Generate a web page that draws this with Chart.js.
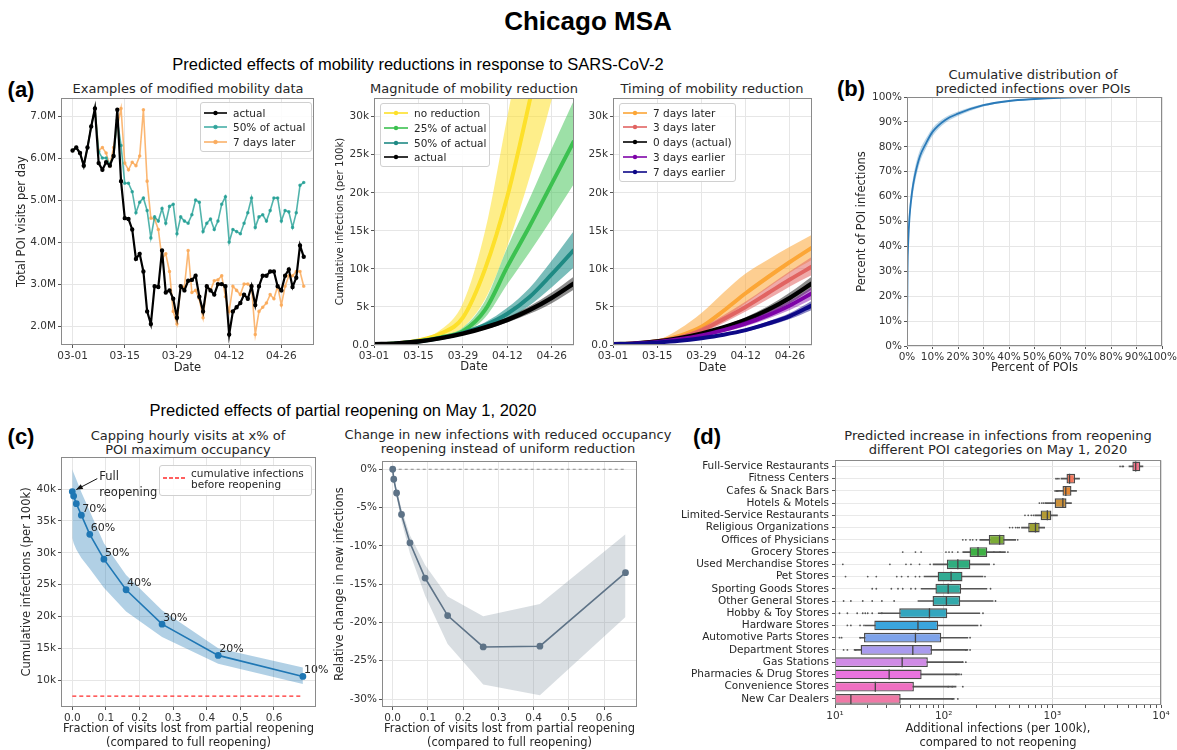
<!DOCTYPE html>
<html>
<head>
<meta charset="utf-8">
<script src="https://cdn.jsdelivr.net/npm/chart.js@4.4.1/dist/chart.umd.min.js"></script>
<style>
  body { margin: 0; width: 1177px; height: 750px; position: relative; overflow: hidden; background: #fff;
         font-family: 'DejaVu Sans', sans-serif; color: #262626; }
  canvas { position: absolute; }
  .t { position: absolute; white-space: nowrap; transform: translate(-50%, -50%); text-align: center; }
  .hv { font-family: 'Liberation Sans', Arial, sans-serif; color: #000; }
  .sub { font-size: 13px; line-height: 14px; }
  .lg { position: absolute; background: rgba(255,255,255,0.85); border: 1px solid #d0d0d0; border-radius: 3px; }
  .lg div { position: absolute; font-size: 10.5px; white-space: nowrap; transform: translateY(-50%); line-height: 11px; }
  .lg svg { position: absolute; }
</style>
</head>
<body>

<div class="t hv" style="left:588px;top:21px;font-size:26px;font-weight:bold">Chicago MSA</div>
<div class="t hv" style="left:418px;top:64px;font-size:16.5px">Predicted effects of mobility reductions in response to SARS-CoV-2</div>
<div class="t hv" style="left:343px;top:410px;font-size:16.5px">Predicted effects of partial reopening on May 1, 2020</div>
<div class="t hv" style="left:21px;top:90px;font-size:22px;font-weight:bold">(a)</div>
<div class="t hv" style="left:851px;top:89px;font-size:22px;font-weight:bold">(b)</div>
<div class="t hv" style="left:21px;top:437px;font-size:22px;font-weight:bold">(c)</div>
<div class="t hv" style="left:707px;top:437px;font-size:22px;font-weight:bold">(d)</div>

<div class="t sub" style="left:188px;top:88.5px">Examples of modified mobility data</div>
<div class="t sub" style="left:474px;top:88.5px">Magnitude of mobility reduction</div>
<div class="t sub" style="left:712px;top:88.5px">Timing of mobility reduction</div>
<div class="t sub" style="left:1033px;top:82px">Cumulative distribution of<br>predicted infections over POIs</div>
<div class="t sub" style="left:188px;top:442.5px">Capping hourly visits at x% of<br>POI maximum occupancy</div>
<div class="t sub" style="left:508px;top:442px">Change in new infections with reduced occupancy<br>reopening instead of uniform reduction</div>
<div class="t sub" style="left:998px;top:442.5px">Predicted increase in infections from reopening<br>different POI categories on May 1, 2020</div>

<script>
// ---- (a) left: daily visits, millions, day 0 = 03-01
const dayTicks = [0, 14, 28, 42, 56];
const dayLabels = ['03-01', '03-15', '03-29', '04-12', '04-26'];
const visitsActual = [6.18,6.25,6.12,5.82,6.25,6.75,7.18, 5.88,5.72,5.9,5.82,6.05,7.15,5.45,
  4.57,4.55,4.3,3.6,3.72,3.3,2.35, 2.05,2.95,2.93,3.8,2.8,2.85,2.65, 2.2,2.95,2.85,3.08,3.1,3.2,2.7,
  2.35,2.95,2.85,2.75,3.0,3.0,2.95, 1.8,2.35,2.45,2.55,2.75,2.65,2.95, 2.5,2.95,3.2,3.2,3.3,3.3,2.95,
  2.85,3.2,3.35,2.93,3.15,3.92,3.65];
const visits50 = [6.18,6.25,6.12,5.82,6.25,6.75,7.18, 6.15,6.0,6.0,5.85,6.05,6.9,6.3,
  5.4,5.4,5.2,4.7,4.95,5.05,4.75, 4.1,4.6,4.5,4.8,4.45,4.85,4.9, 4.2,4.6,4.5,4.45,4.65,5.0,4.95,
  4.25,4.45,4.55,4.3,4.5,4.9,5.08, 4.0,4.3,4.25,4.2,4.45,4.7,5.05, 4.35,4.6,4.65,4.5,4.75,5.05,5.05,
  4.5,4.75,4.72,4.35,4.7,5.35,5.42];
const visits7Later = [6.18,6.25,6.12,5.82,6.25,6.75,7.18, 6.18,6.25,6.12,5.82,6.25,6.75,7.18,
  5.88,5.72,5.9,5.82,6.05,7.15,5.45, 4.57,4.55,4.3,3.6,3.72,3.3,2.35, 2.05,2.95,2.93,3.8,2.8,2.85,2.65,
  2.2,2.95,2.85,3.08,3.1,3.2,2.7, 2.35,2.95,2.85,2.75,3.0,3.0,2.95, 1.8,2.35,2.45,2.55,2.75,2.65,2.95,
  2.5,2.95,3.2,3.2,3.3,3.3,2.95];
const visitTicks = [2, 3, 4, 5, 6, 7];

// ---- (a) middle/right: cumulative infections per 100k, in thousands
const curveDays = [0, 7, 14, 21, 28, 35, 42, 49, 56, 63];
const infTicks = [0, 5, 10, 15, 20, 25, 30];
const actMid = [0.1,0.2,0.45,0.9,1.5,2.3,3.3,4.6,6.2,8.1];
const actLo  = [0.1,0.2,0.4,0.8,1.35,2.05,2.95,4.1,5.5,7.3];
const actHi  = [0.1,0.25,0.5,1.0,1.65,2.55,3.65,5.1,6.9,9.0];
const half50Mid = [0.1,0.2,0.45,0.9,1.6,2.6,4.1,6.3,9.3,12.5];
const half50Lo  = [0.1,0.2,0.4,0.8,1.4,2.2,3.4,5.2,7.6,10.2];
const half50Hi  = [0.1,0.25,0.5,1.0,1.8,3.0,4.9,7.5,11.1,15.0];
const q25Mid = [0.1,0.2,0.5,1.0,1.8,4.6,10.3,15.6,21.2,26.8];
const q25Lo  = [0.1,0.2,0.45,0.9,1.5,3.6,8.0,12.2,16.6,21.2];
const q25Hi  = [0.1,0.25,0.55,1.2,2.3,5.8,12.8,19.2,25.8,32.2];
const noRedMid = [0.1,0.2,0.6,1.5,3.6,10,19.5,32,46,60];
const noRedLo  = [0.1,0.2,0.5,1.1,2.3,6,13,22,32.3,44];
const noRedHi  = [0.1,0.25,0.7,2.0,5.5,15,30,45,62,80];
const later7Mid = [0.1,0.2,0.5,1.2,2.4,4.5,6.8,8.9,10.9,12.8];
const later7Lo  = [0.1,0.2,0.45,0.9,1.7,3.5,5.5,7.5,9.5,11.2];
const later7Hi  = [0.1,0.25,0.6,2.1,4.2,6.9,9.4,11.2,12.9,14.5];
const later3Mid = [0.1,0.2,0.5,1.0,1.9,3.4,5.0,6.8,8.6,10.3];
const later3Lo  = [0.1,0.2,0.45,0.9,1.6,2.9,4.4,6.0,7.7,9.2];
const later3Hi  = [0.1,0.25,0.55,1.2,2.3,3.9,5.7,7.7,9.7,11.6];
const earlier3Mid = [0.1,0.2,0.4,0.75,1.25,1.95,2.8,3.9,5.2,6.8];
const earlier3Lo  = [0.1,0.18,0.35,0.65,1.1,1.7,2.45,3.45,4.6,6.0];
const earlier3Hi  = [0.1,0.22,0.45,0.85,1.4,2.2,3.15,4.35,5.8,7.6];
const earlier7Mid = [0.1,0.18,0.33,0.55,0.9,1.35,1.95,2.8,3.8,5.2];
const earlier7Lo  = [0.1,0.16,0.3,0.5,0.8,1.2,1.75,2.5,3.4,4.6];
const earlier7Hi  = [0.1,0.2,0.36,0.6,1.0,1.5,2.15,3.1,4.2,5.8];

// ---- (b) CDF over POIs (percent)
const pctTicks = [0,10,20,30,40,50,60,70,80,90,100];
const cdfX   = [0,0.2,0.5,1,2,3,5,7.5,10,15,20,30,40,50,60,70,80,100];
const cdfMid = [0,30,42,52,62,68,76,81.5,86,90.8,93.3,96.7,98.4,99.2,99.7,99.9,100,100];
const cdfLo  = [0,27,38.5,48.5,58.5,65,73.5,79.5,84.3,89.6,92.4,96.2,98.1,99.0,99.6,99.85,100,100];
const cdfHi  = [0,33,45.5,55.5,65,71,78.5,83.5,87.6,91.9,94.2,97.2,98.7,99.4,99.8,99.95,100,100];

// ---- (c) partial reopening
const capNames = ['', '', '', '70%', '60%', '50%', '40%', '30%', '20%', '10%'];
const capLostX = [0, 0.004, 0.012, 0.027, 0.052, 0.094, 0.16, 0.267, 0.434, 0.686];
const capInf   = [39.6, 38.9, 37.7, 35.9, 32.9, 29.0, 24.2, 18.8, 13.9, 10.6];
const capInfLo = [32.3, 31.5, 30.5, 29.2, 27.5, 24.5, 20.8, 16.8, 12.6, 9.4];
const capInfHi = [43.1, 42.5, 41.5, 39.5, 36.5, 31.5, 26.5, 21.0, 15.0, 12.0];
const beforeReopen = 7.5;
const fracTicks = [0, 0.1, 0.2, 0.3, 0.4, 0.5, 0.6];
const capTicks = [10, 15, 20, 25, 30, 35, 40];
const relLostX = [0, 0.003, 0.011, 0.025, 0.049, 0.092, 0.156, 0.257, 0.418, 0.661];
const relChange   = [0, -1.3, -3.1, -5.9, -9.6, -14.2, -19.1, -23.2, -23.1, -13.5];
const relChangeLo = [0, -1.6, -3.6, -6.8, -11, -16.5, -22.8, -28.1, -29.5, -19.3];
const relChangeHi = [0, -1.0, -2.6, -5.2, -8.6, -12.5, -16.6, -19.2, -17.6, -8.5];
const relTicks = [-30, -25, -20, -15, -10, -5, 0];

// ---- (d) POI categories
const poiCats = ['Full-Service Restaurants','Fitness Centers','Cafes & Snack Bars','Hotels & Motels',
  'Limited-Service Restaurants','Religious Organizations','Offices of Physicians','Grocery Stores',
  'Used Merchandise Stores','Pet Stores','Sporting Goods Stores','Other General Stores','Hobby & Toy Stores',
  'Hardware Stores','Automotive Parts Stores','Department Stores','Gas Stations','Pharmacies & Drug Stores',
  'Convenience Stores','New Car Dealers'];
const poiQ1  = [5450,1350,1240,1050,780,600,260,173,107,88,84,79,39,23,18.5,17.2,5,4,3,2];
const poiMed = [5850,1440,1330,1250,900,700,327,207,135,117,110,106,74,58,55,52,41.5,31.5,23.5,14];
const poiQ3  = [6450,1620,1500,1350,980,765,364,252,176,149,145,142,108,89,95,78,71.5,62.7,53.2,40.2];
const poiLo  = [5070,1200,1090,870,690,520,215,150,80,66,62,58,25,19,17,15,2,1.5,1.2,1];
const poiHi  = [6820,1780,1670,1500,1115,850,460,370,265,230,250,285,215,207,167,167,150,140,130,125];
const poiFliers = [[4200,4400,4500],[1080,1110,1150],[1060,1090,1120],[760,800,830,860],[560,600,640,670],
  [405,430,460,480,495],[150,160,175,185,200,480],[42,55,62,105,112,120,135,290,330,390],
  [11.8,32,45,50,60,75,290],[12.5,20,24,37,41,47,55,60,240],[22,24,33,38,42,50,55,270],
  [12,14,18,22,27,35,300],[11,13,16,18,19,20,22,27,230],[13,14,17,18.5,220],[11,11.5,17,175],
  [12,13,15.5,160,175],[160,150],[145,130],[110,120,150],[120,135]];
const poiColors = ['#f47189','#f4775c','#e48834','#cc913a','#b49a35','#9ea233','#7bab36','#3fb145',
  '#30ad7f','#31ab93','#32aa9f','#33a9ab','#33a6bf','#3aa5dc','#7ea3ea','#a99bee','#d08be6','#e873df',
  '#ef70c2','#ef79a6'];
const sup = {10: '10\u00b9', 100: '10\u00b2', 1000: '10\u00b3', 10000: '10\u2074'};

Chart.defaults.font.family = "'DejaVu Sans', sans-serif";
Chart.defaults.font.size = 10.5;
Chart.defaults.color = '#333';
Chart.defaults.animation = false;
Chart.defaults.responsive = false;
Chart.defaults.devicePixelRatio = 1;
Chart.defaults.plugins.legend.display = false;
Chart.defaults.plugins.tooltip.enabled = false;

// spines all round
Chart.register({
  id: 'frame',
  afterDraw(chart) {
    const { ctx, chartArea: a } = chart;
    ctx.save();
    ctx.strokeStyle = '#8a8a8a';
    ctx.lineWidth = 1;
    ctx.strokeRect(Math.round(a.left) + 0.5, Math.round(a.top) + 0.5, Math.round(a.width) - 1, Math.round(a.height) - 1);
    ctx.restore();
  }
});

function pts(xs, ys) { return ys.map((y, i) => ({ x: xs[i], y: y })); }

// canvas so that the plot area lands on [l, t, r, b]
function panel(area, wy, hx, padT, padR) {
  const c = document.createElement('canvas');
  c.width = area[2] - area[0] + wy + padR;
  c.height = area[3] - area[1] + padT + hx;
  c.style.left = (area[0] - wy) + 'px';
  c.style.top = (area[1] - padT) + 'px';
  document.body.appendChild(c);
  return c;
}

function axis(o) {
  const a = {
    type: o.type || 'linear',
    min: o.min, max: o.max,
    grid: { color: o.gridColor || '#e6e6e6', tickLength: 3, tickColor: '#555', offset: false },
    border: { display: false },
    ticks: { padding: 2, autoSkip: false, maxRotation: 0, minRotation: 0, color: '#333' },
    title: o.title ? { display: true, text: o.title, padding: 0, color: '#262626',
                       font: { size: o.titleSize || 11.5, lineHeight: 1.2 } } : { display: false },
    afterFit: s => {
      if (o.w) { s.width = o.w; s.paddingTop = 0; s.paddingBottom = 0; }
      if (o.h) { s.height = o.h; s.paddingLeft = 0; s.paddingRight = 0; }
    }
  };
  if (o.label) a.ticks.callback = o.label;
  if (o.ticks) a.afterBuildTicks = s => { s.ticks = o.ticks.map(v => ({ value: v })); };
  return a;
}

function bandSets(xs, mid, lo, hi, color, band, width) {
  return [
    { data: pts(xs, mid), borderColor: color, borderWidth: width, pointRadius: 0, fill: false, cubicInterpolationMode: 'monotone' },
    { data: pts(xs, hi), borderWidth: 0, pointRadius: 0, fill: '+1', backgroundColor: band, cubicInterpolationMode: 'monotone' },
    { data: pts(xs, lo), borderWidth: 0, pointRadius: 0, fill: false, cubicInterpolationMode: 'monotone' }
  ];
}

function legend(left, top, w, h, firstRow, step, lineLen, items) {
  const box = document.createElement('div');
  box.className = 'lg';
  box.style.cssText = `left:${left}px;top:${top}px;width:${w}px;height:${h}px`;
  items.forEach((it, i) => {
    const y = firstRow + i * step;
    const dash = it.dash ? 'stroke-dasharray="4,2"' : '';
    const dot = it.dash ? '' : `<circle cx="${lineLen / 2}" cy="5" r="2.2" fill="${it.color}"/>`;
    box.insertAdjacentHTML('beforeend',
      `<svg width="${lineLen}" height="10" style="left:3px;top:${(it.lineY || y) - 5}px">` +
      `<line x1="0" y1="5" x2="${lineLen}" y2="5" stroke="${it.color}" stroke-width="1.6" ${dash}/>${dot}</svg>` +
      `<div style="left:${lineLen + 9}px;top:${y}px">${it.label}</div>`);
  });
  document.body.appendChild(box);
}

const dateLabel = (v) => dayLabels[dayTicks.indexOf(v)];
const kLabel = (v) => v === 0 ? '0.0' : v + 'k';

// ---------- (a) Examples of modified mobility data
new Chart(panel([61, 98, 314, 345], 46, 30, 8, 6), {
  type: 'line',
  data: { datasets: [
    { data: pts(visitsActual.map((v, i) => i), visitsActual), borderColor: '#000', backgroundColor: '#000', borderWidth: 2.2, pointRadius: 1.1 },
    { data: pts(visits50.map((v, i) => i), visits50), borderColor: 'rgba(38,160,150,0.8)', backgroundColor: 'rgba(38,160,150,0.8)', borderWidth: 1.6, pointRadius: 1 },
    { data: pts(visits7Later.map((v, i) => i), visits7Later), borderColor: 'rgba(250,170,90,0.85)', backgroundColor: 'rgba(250,170,90,0.85)', borderWidth: 1.6, pointRadius: 1 }
  ] },
  options: {
    layout: { padding: { top: 8, right: 6 } },
    scales: {
      x: axis({ min: -3.1, max: 64.7, ticks: dayTicks, label: dateLabel, title: 'Date', h: 30 }),
      y: axis({ min: 1.55, max: 7.43, ticks: visitTicks, label: v => v.toFixed(1) + 'M', title: 'Total POI visits per day', w: 46 })
    }
  }
});
legend(200, 102, 110, 48, 9.5, 14.7, 23, [
  { label: 'actual', color: '#000' },
  { label: '50% of actual', color: 'rgba(38,160,150,0.85)' },
  { label: '7 days later', color: 'rgba(250,170,90,0.9)' }
]);

// ---------- (a) Magnitude of mobility reduction
new Chart(panel([374, 98, 574, 345], 40, 29, 8, 6), {
  type: 'line',
  data: { datasets: [].concat(
    bandSets(curveDays, actMid, actLo, actHi, '#000', 'rgba(0,0,0,0.45)', 4.5),
    bandSets(curveDays, half50Mid, half50Lo, half50Hi, '#1f8a84', 'rgba(33,145,140,0.6)', 4),
    bandSets(curveDays, q25Mid, q25Lo, q25Hi, '#3cc150', 'rgba(60,193,80,0.5)', 4),
    bandSets(curveDays, noRedMid, noRedLo, noRedHi, '#fde02a', 'rgba(253,224,42,0.55)', 4)
  ) },
  options: {
    layout: { padding: { top: 8, right: 6 } },
    scales: {
      x: axis({ min: 0, max: 63, ticks: dayTicks, label: dateLabel, title: 'Date', h: 29 }),
      y: axis({ min: 0, max: 32.45, ticks: infTicks, label: kLabel, title: 'Cumulative infections (per 100k)', titleSize: 10.2, w: 40 })
    }
  }
});
legend(380, 103, 108, 62, 8.7, 14.9, 24, [
  { label: 'no reduction', color: '#fde02a' },
  { label: '25% of actual', color: '#3cc150' },
  { label: '50% of actual', color: '#1f8a84' },
  { label: 'actual', color: '#000' }
]);

// ---------- (a) Timing of mobility reduction
new Chart(panel([613, 98, 812, 345], 40, 30, 8, 6), {
  type: 'line',
  data: { datasets: [].concat(
    bandSets(curveDays, earlier7Mid, earlier7Lo, earlier7Hi, '#0d0887', 'rgba(13,8,135,0.5)', 4),
    bandSets(curveDays, earlier3Mid, earlier3Lo, earlier3Hi, '#7e03a8', 'rgba(126,3,168,0.45)', 4),
    bandSets(curveDays, actMid, actLo, actHi, '#000', 'rgba(0,0,0,0.45)', 4.5),
    bandSets(curveDays, later3Mid, later3Lo, later3Hi, '#e16462', 'rgba(225,100,98,0.55)', 4),
    bandSets(curveDays, later7Mid, later7Lo, later7Hi, '#fca636', 'rgba(252,166,54,0.55)', 4)
  ) },
  options: {
    layout: { padding: { top: 8, right: 6 } },
    scales: {
      x: axis({ min: 0, max: 63, ticks: dayTicks, label: dateLabel, title: 'Date', h: 30 }),
      y: axis({ min: 0, max: 32.45, ticks: infTicks, label: kLabel, w: 40 })
    }
  }
});
legend(619, 103, 115, 77, 8.7, 14.75, 24, [
  { label: '7 days later', color: '#fca636' },
  { label: '3 days later', color: '#e16462' },
  { label: '0 days (actual)', color: '#000' },
  { label: '3 days earlier', color: '#7e03a8' },
  { label: '7 days earlier', color: '#0d0887' }
]);

// ---------- (b) CDF
new Chart(panel([907, 97, 1162, 346], 52, 29, 8, 15), {
  type: 'line',
  data: { datasets: bandSets(cdfX, cdfMid, cdfLo, cdfHi, '#2a7ab9', 'rgba(31,119,180,0.3)', 1.8) },
  options: {
    layout: { padding: { top: 8, right: 15 } },
    scales: {
      x: axis({ min: 0, max: 100, ticks: pctTicks, label: v => v + '%', title: 'Percent of POIs', h: 29 }),
      y: axis({ min: 0, max: 100, ticks: pctTicks, label: v => v + '%', title: 'Percent of POI infections', w: 52 })
    }
  }
});

// ---------- (c) capping occupancy
const capLabelPlugin = {
  id: 'capLabels',
  afterDatasetsDraw(chart) {
    const { ctx } = chart;
    const pts0 = chart.getDatasetMeta(1).data;
    ctx.save();
    ctx.fillStyle = '#262626';
    ctx.font = "11px 'DejaVu Sans'";
    ctx.textAlign = 'left';
    ctx.textBaseline = 'bottom';
    pts0.forEach((p, i) => { if (capNames[i]) ctx.fillText(capNames[i], p.x + 1, p.y - 1); });
    const p = pts0[0];
    ctx.font = "11.5px 'DejaVu Sans'";
    ctx.textBaseline = 'middle';
    ctx.fillText('Full', p.x + 27, p.y - 15);
    ctx.fillText('reopening', p.x + 27, p.y + 1);
    // arrow
    const x0 = p.x + 25, y0 = p.y - 13, x1 = p.x + 4, y1 = p.y - 2;
    const ang = Math.atan2(y1 - y0, x1 - x0);
    ctx.strokeStyle = '#111'; ctx.fillStyle = '#111'; ctx.lineWidth = 1;
    ctx.beginPath(); ctx.moveTo(x0, y0); ctx.lineTo(x1, y1); ctx.stroke();
    ctx.beginPath();
    ctx.moveTo(x1, y1);
    ctx.lineTo(x1 - 7 * Math.cos(ang - 0.4), y1 - 7 * Math.sin(ang - 0.4));
    ctx.lineTo(x1 - 7 * Math.cos(ang + 0.4), y1 - 7 * Math.sin(ang + 0.4));
    ctx.closePath(); ctx.fill();
    ctx.restore();
  }
};
new Chart(panel([61, 457, 316, 707], 41, 43, 8, 24), {
  type: 'line',
  data: { datasets: [
    { data: pts([0, capLostX[capLostX.length - 1]], [beforeReopen, beforeReopen]), borderColor: '#ff2a2a', borderWidth: 1.3, borderDash: [4, 3], pointRadius: 0 },
    { data: pts(capLostX, capInf), borderColor: '#1f77b4', backgroundColor: '#1f77b4', borderWidth: 1.6, pointRadius: 2.6 },
    { data: pts(capLostX, capInfHi), borderWidth: 0, pointRadius: 0, fill: '+1', backgroundColor: 'rgba(31,119,180,0.35)' },
    { data: pts(capLostX, capInfLo), borderWidth: 0, pointRadius: 0 }
  ] },
  options: {
    layout: { padding: { top: 8, right: 24 } },
    scales: {
      x: axis({ min: -0.0336, max: 0.725, ticks: fracTicks, label: v => v.toFixed(1),
                title: ['Fraction of visits lost from partial reopening', '(compared to full reopening)'], h: 43 }),
      y: axis({ min: 5.8, max: 45.03, ticks: capTicks, label: v => v + 'k', title: 'Cumulative infections (per 100k)', w: 41 })
    }
  },
  plugins: [capLabelPlugin]
});
legend(159, 465, 151, 29, 7.3, 11, 22, [
  { label: 'cumulative infections', color: '#ff2a2a', dash: true, lineY: 12 },
  { label: 'before reopening', color: 'rgba(0,0,0,0)', dash: true }
]);

// ---------- (c) relative change
new Chart(panel([382, 461, 637, 707], 49, 43, 8, 6), {
  type: 'line',
  data: { datasets: [
    { data: pts(relLostX, relChange), borderColor: '#5e7387', backgroundColor: '#5e7387', borderWidth: 1.6, pointRadius: 2.6 },
    { data: pts([0, relLostX[relLostX.length - 1]], [0, 0]), borderColor: '#8c8c8c', borderWidth: 1, borderDash: [3, 3], pointRadius: 0 },
    { data: pts(relLostX, relChangeHi), borderWidth: 0, pointRadius: 0, fill: '+1', backgroundColor: 'rgba(120,138,152,0.28)' },
    { data: pts(relLostX, relChangeLo), borderWidth: 0, pointRadius: 0 }
  ] },
  options: {
    layout: { padding: { top: 8, right: 6 } },
    scales: {
      x: axis({ min: -0.0304, max: 0.6937, ticks: fracTicks, label: v => v.toFixed(1),
                title: ['Fraction of visits lost from partial reopening', '(compared to full reopening)'], h: 43 }),
      y: axis({ min: -31.04, max: 1.08, ticks: relTicks, label: v => v + '%', title: 'Relative change in new infections', w: 49 })
    }
  }
});

// ---------- (d) box plots by POI category
const logTicks = [];
for (let e = 10; e < 10000; e *= 10) for (let m = 1; m < 10; m++) logTicks.push(m * e);
logTicks.push(10000);
const flierPts = [];
poiFliers.forEach((arr, i) => arr.forEach(v => flierPts.push({ x: v, y: poiCats[i] })));
const dx = axis({ type: 'logarithmic', min: 10, max: 10000, ticks: logTicks, label: v => sup[v] || '',
                  title: ['Additional infections (per 100k),', 'compared to not reopening'], h: 45 });
dx.grid.color = c => (c.tick && sup[c.tick.value]) ? '#dcdcdc' : 'rgba(0,0,0,0)';
const dy = axis({ type: 'category', w: 155, label: (v, i) => poiCats[i] });
dy.offset = true;
dy.grid.color = '#e9e9e9';
dy.ticks.color = '#262626';
dy.ticks.padding = 3;
new Chart(panel([835, 458, 1161, 705], 155, 45, 4, 10), {
  type: 'bar',
  data: {
    labels: poiCats,
    datasets: [
      { type: 'scatter', data: poiMed.map((v, i) => ({ x: v, y: poiCats[i] })), pointStyle: 'line', rotation: 90,
        pointRadius: 5, borderColor: '#444', borderWidth: 1.3, order: 0 },
      { type: 'scatter', data: flierPts, pointRadius: 0.9, backgroundColor: '#555', borderWidth: 0, order: 1 },
      { data: poiQ1.map((v, i) => [v, poiQ3[i]]), backgroundColor: poiColors, borderColor: '#4a4a4a', borderWidth: 1.4,
        borderSkipped: false, grouped: false, categoryPercentage: 0.8, barPercentage: 1, order: 2 },
      { data: poiLo.map((v, i) => [v, poiHi[i]]), backgroundColor: '#555', grouped: false, barThickness: 1, order: 3 }
    ]
  },
  options: {
    indexAxis: 'y',
    layout: { padding: { top: 4, right: 10 } },
    scales: { x: dx, y: dy }
  }
});
</script>
</body>
</html>
